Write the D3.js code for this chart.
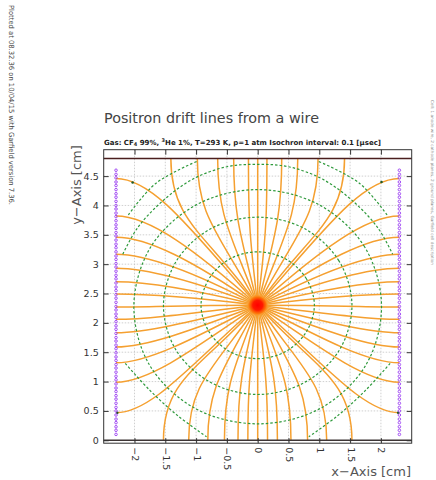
<!DOCTYPE html>
<html>
<head>
<meta charset="utf-8">
<script src="https://cdn.jsdelivr.net/npm/d3@7"></script>
<style>
  body { margin: 0; background: #fff; }
  svg { display: block; }
  text { font-family: "DejaVu Sans", sans-serif; }
</style>
</head>
<body>
<svg width="436" height="480"></svg>
<script>
const width = 436;
const height = 480;

// axis ticks
const xTicks = [-2, -1.5, -1, -0.5, 0, 0.5, 1, 1.5, 2];
const yTicks = [0, 0.5, 1, 1.5, 2, 2.5, 3, 3.5, 4, 4.5];

// cell layout (cm)
const anodeWire = [0, 2.3];
const cathodePlaneX = [-2.3, 2.3];
const groundPlaneY = [0, 4.8];
const cathodeWireY = [
    0.10, 0.17, 0.23, 0.30, 0.36, 0.43, 0.50, 0.56, 0.63, 0.70, 0.76, 0.83,
    0.89, 0.96, 1.03, 1.09, 1.16, 1.23, 1.29, 1.36, 1.42, 1.49, 1.56, 1.62,
    1.69, 1.75, 1.82, 1.89, 1.95, 2.02, 2.09, 2.15, 2.22, 2.28, 2.35, 2.42,
    2.48, 2.55, 2.61, 2.68, 2.75, 2.81, 2.88, 2.95, 3.01, 3.08, 3.14, 3.21,
    3.28, 3.34, 3.41, 3.48, 3.54, 3.61, 3.67, 3.74, 3.81, 3.87, 3.94, 4.00,
    4.07, 4.14, 4.20, 4.27, 4.34, 4.40, 4.47, 4.53, 4.60,
];

// drift lines: start angle at the wire (deg) and where each one ends (cm)
const driftAngle = [
    0, 6.92, 13.85, 20.77, 27.69, 34.62, 41.54, 48.46, 55.38, 62.31, 69.23, 76.15, 83.08,
    90, 96.92, 103.85, 110.77, 117.69, 124.62, 131.54, 138.46, 145.38, 152.31, 159.23, 166.15, 173.08,
    180, 186.92, 193.85, 200.77, 207.69, 214.62, 221.54, 228.46, 235.38, 242.31, 249.23, 256.15, 263.08,
    270, 276.92, 283.85, 290.77, 297.69, 304.62, 311.54, 318.46, 325.38, 332.31, 339.23, 346.15, 353.08,
];
const driftEndX = [
    2.3, 2.3, 2.3, 2.3, 2.3, 2.3, 2.3, 2.3, 1.41, 0.98, 0.65, 0.39, 0.15,
    0, -0.15, -0.39, -0.65, -0.98, -1.41, -2.3, -2.3, -2.3, -2.3, -2.3, -2.3, -2.3,
    -2.3, -2.3, -2.3, -2.3, -2.3, -2.3, -2.3, -1.53, -1.12, -0.81, -0.54, -0.32, -0.16,
    0, 0.16, 0.32, 0.54, 0.81, 1.12, 1.53, 2.3, 2.3, 2.3, 2.3, 2.3, 2.3,
];
const driftEndY = [
    2.27, 2.49, 2.70, 2.93, 3.17, 3.46, 3.82, 4.46, 4.8, 4.8, 4.8, 4.8, 4.8,
    4.8, 4.8, 4.8, 4.8, 4.8, 4.8, 4.46, 3.82, 3.46, 3.17, 2.93, 2.70, 2.49,
    2.27, 2.06, 1.83, 1.59, 1.32, 0.99, 0.47, 0, 0, 0, 0, 0, 0,
    0, 0, 0, 0, 0, 0, 0, 0.47, 0.99, 1.32, 1.59, 1.83, 2.06,
];

// isochrons, 0.1 usec apart: closed rings as radius per direction (cm)
const isoRingAngles = [0, 30, 60, 90, 120, 150, 180, 210, 240, 270, 300, 330];
const isoRing1 = [0.92, 0.91, 0.91, 0.91, 0.91, 0.91, 0.92, 0.91, 0.91, 0.91, 0.91, 0.91];
const isoRing2 = [1.53, 1.52, 1.51, 1.50, 1.51, 1.52, 1.53, 1.53, 1.52, 1.52, 1.52, 1.53];
const isoRing3 = [2.01, 2.00, 1.98, 1.97, 1.98, 2.00, 2.01, 2.03, 2.03, 2.02, 2.03, 2.03];
// open pieces where the planes cut the later isochrons (cm)
const isoTop4 = [[-2.19, 3.17], [-1.95, 3.62], [-1.55, 4.07], [-1.05, 4.45], [-0.5, 4.66], [0, 4.70],
    [0.5, 4.66], [1.05, 4.45], [1.55, 4.07], [1.95, 3.62], [2.19, 3.17]];
const isoLowLeft4 = [[-2.15, 1.31], [-1.75, 0.85], [-1.3, 0.42], [-0.83, 0.06]];
const isoLowRight4 = [[2.15, 1.31], [1.75, 0.85], [1.3, 0.42], [0.83, 0.06]];
const isoTopLeft5 = [[-2.10, 3.84], [-1.65, 4.38], [-0.99, 4.75]];
const isoTopRight5 = [[2.10, 3.84], [1.65, 4.38], [0.99, 4.75]];
// single isochron points left on the longest lines
const isoDots = [[-2.03, 4.39], [2.01, 4.40], [-2.28, 0.47], [2.28, 0.47]];

const svg = d3.select("svg");

const x = d3.scaleLinear().domain([-2.5, 2.5]).range([103.7, 411.7]);
const y = d3.scaleLinear().domain([-0.05, 4.95]).range([443.2, 149.7]);

const plot = svg.append("g").attr("id", "plot");

// clip to frame
svg.append("defs").append("clipPath").attr("id", "frameClip")
    .append("rect")
    .attr("x", x(-2.5)).attr("y", y(4.95))
    .attr("width", x(2.5) - x(-2.5)).attr("height", y(-0.05) - y(4.95));

// grid
const grid = plot.append("g").attr("stroke", "#c4c4c4").attr("stroke-width", 0.8)
    .attr("stroke-dasharray", "1.5,1.5");
grid.selectAll(".vgrid").data(xTicks).enter().append("line")
    .attr("x1", (d) => x(d)).attr("x2", (d) => x(d))
    .attr("y1", y(4.95)).attr("y2", y(-0.05));
grid.selectAll(".hgrid").data(yTicks.filter((d) => d > 0)).enter().append("line")
    .attr("x1", x(-2.5)).attr("x2", x(2.5))
    .attr("y1", (d) => y(d)).attr("y2", (d) => y(d));

// drift lines
const driftPath = (i) => {
    const x0 = x(anodeWire[0]), y0 = y(anodeWire[1]);
    const x3 = x(driftEndX[i]), y3 = y(driftEndY[i]);
    const a = (driftAngle[i] * Math.PI) / 180;
    const dist = Math.hypot(x3 - x0, y3 - y0);
    // solid planes: arrive perpendicular; wire planes: softer approach
    let nx = 0, ny = 0, k = 0.38;
    if (Math.abs(driftEndX[i]) > 2.2) {
        nx = Math.sign(driftEndX[i]);
        k = 0.2;
    } else {
        ny = driftEndY[i] > 2 ? -1 : 1;
    }
    const p = d3.path();
    p.moveTo(x0, y0);
    p.bezierCurveTo(
        x0 + 0.5 * dist * Math.cos(a), y0 - 0.5 * dist * Math.sin(a),
        x3 - k * dist * nx, y3 - k * dist * ny,
        x3, y3
    );
    return p.toString();
};

plot.append("g").attr("clip-path", "url(#frameClip)")
    .selectAll("path").data(driftAngle).enter().append("path")
    .attr("d", (d, i) => driftPath(i))
    .attr("fill", "none")
    .attr("stroke", "#f5a030")
    .attr("stroke-width", 1.5);

// isochrons
const isoG = plot.append("g").attr("fill", "none").attr("stroke", "#2f9a3c")
    .attr("stroke-width", 1.2).attr("stroke-dasharray", "2.5,2");

const ringLine = d3.line()
    .x((d) => x(anodeWire[0] + d.r * Math.cos((d.a * Math.PI) / 180)))
    .y((d) => y(anodeWire[1] + d.r * Math.sin((d.a * Math.PI) / 180)))
    .curve(d3.curveCatmullRomClosed.alpha(0.5));

[isoRing1, isoRing2, isoRing3].forEach((ring) => {
    isoG.append("path")
        .attr("d", ringLine(ring.map((r, i) => ({ r: r, a: isoRingAngles[i] }))));
});

const pieceLine = d3.line().x((d) => x(d[0])).y((d) => y(d[1])).curve(d3.curveCatmullRom);
[isoTop4, isoLowLeft4, isoLowRight4, isoTopLeft5, isoTopRight5].forEach((piece) => {
    isoG.append("path").attr("d", pieceLine(piece));
});

plot.append("g").selectAll("circle").data(isoDots).enter().append("circle")
    .attr("cx", (d) => x(d[0])).attr("cy", (d) => y(d[1]))
    .attr("r", 1.3).attr("fill", "#1f5a26");

// anode wire glow
const grad = svg.select("defs").append("radialGradient").attr("id", "wireGlow");
grad.append("stop").attr("offset", "0%").attr("stop-color", "#ff0000");
grad.append("stop").attr("offset", "45%").attr("stop-color", "#ff1a00");
grad.append("stop").attr("offset", "75%").attr("stop-color", "#ff6a00").attr("stop-opacity", 0.8);
grad.append("stop").attr("offset", "100%").attr("stop-color", "#ffa030").attr("stop-opacity", 0);
plot.append("circle")
    .attr("cx", x(anodeWire[0])).attr("cy", y(anodeWire[1]))
    .attr("r", 11).attr("fill", "url(#wireGlow)");

// cathode wires
cathodePlaneX.forEach((cx) => {
    plot.append("g").selectAll("circle").data(cathodeWireY).enter().append("circle")
        .attr("cx", x(cx)).attr("cy", (d) => y(d))
        .attr("r", 1.3)
        .attr("fill", "none")
        .attr("stroke", "#9b3ff2")
        .attr("stroke-width", 0.9);
});

// ground planes
plot.selectAll(".plane").data(groundPlaneY).enter().append("line")
    .attr("x1", x(-2.5)).attr("x2", x(2.5))
    .attr("y1", (d) => y(d)).attr("y2", (d) => y(d))
    .attr("stroke", (d) => (d > 1 ? "#4a1e1e" : "#3d3535"))
    .attr("stroke-width", 1.4);

// frame
plot.append("rect")
    .attr("x", x(-2.5)).attr("y", y(4.95))
    .attr("width", x(2.5) - x(-2.5)).attr("height", y(-0.05) - y(4.95))
    .attr("fill", "none").attr("stroke", "#333").attr("stroke-width", 1);

// axes, ticks inward on all sides
const axisStyle = (g) => {
    g.select(".domain").remove();
    g.selectAll(".tick line").attr("stroke", "#333");
    g.selectAll(".tick text").attr("fill", "#333").style("font-size", "9.5px");
};

svg.append("g")
    .attr("transform", `translate(0, ${y(-0.05)})`)
    .call(d3.axisBottom(x).tickValues(xTicks).tickSize(-5).tickPadding(4)
        .tickFormat((d) => d3.format("")(d).replace("-", "\u2212")))
    .call(axisStyle)
    .call((g) => g.selectAll(".tick text")
        .attr("transform", "rotate(90)")
        .attr("text-anchor", "start")
        .attr("x", 4).attr("y", 0).attr("dy", "0.32em"));

svg.append("g")
    .attr("transform", `translate(0, ${y(4.95)})`)
    .call(d3.axisTop(x).tickValues(xTicks).tickSize(-5).tickFormat(""))
    .call(axisStyle);

svg.append("g")
    .attr("transform", `translate(${x(-2.5)}, 0)`)
    .call(d3.axisLeft(y).tickValues(yTicks).tickSize(-5).tickPadding(5)
        .tickFormat(d3.format("")))
    .call(axisStyle);

svg.append("g")
    .attr("transform", `translate(${x(2.5)}, 0)`)
    .call(d3.axisRight(y).tickValues(yTicks).tickSize(-5).tickFormat(""))
    .call(axisStyle);

// titles
svg.append("text")
    .attr("x", 104).attr("y", 122.5)
    .attr("textLength", 215).attr("lengthAdjust", "spacingAndGlyphs")
    .attr("fill", "#444").style("font-size", "14px")
    .text("Positron drift lines from a wire");

const sub = svg.append("text")
    .attr("x", 104).attr("y", 144.5)
    .attr("fill", "#222").style("font-size", "7px").style("font-weight", "bold");
sub.append("tspan").text("Gas: CF");
sub.append("tspan").attr("dy", 1.5).style("font-size", "5px").text("4");
sub.append("tspan").attr("dy", -1.5).text(" 99%, ");
sub.append("tspan").attr("dy", -2.5).style("font-size", "5px").text("3");
sub.append("tspan").attr("dy", 2.5).text("He 1%, T=293 K, p=1 atm Isochron interval: 0.1 [\u00b5sec]");

svg.append("text")
    .attr("transform", `translate(81, 185) rotate(-90)`)
    .attr("text-anchor", "middle")
    .attr("fill", "#555").style("font-size", "13px")
    .text("y\u2212Axis [cm]");

svg.append("text")
    .attr("x", 411).attr("y", 476)
    .attr("text-anchor", "end")
    .attr("fill", "#555").style("font-size", "13px")
    .text("x\u2212Axis [cm]");

svg.append("text")
    .attr("transform", "translate(9, 5) rotate(90)")
    .attr("textLength", 200).attr("lengthAdjust", "spacingAndGlyphs")
    .attr("fill", "#444").style("font-size", "7px")
    .text("Plotted at 08.32.36 on 10/04/15 with Garfield version 7.36.");

svg.append("text")
    .attr("transform", "translate(431, 100) rotate(90)")
    .attr("textLength", 165).attr("lengthAdjust", "spacingAndGlyphs")
    .attr("fill", "#888").style("font-size", "4px")
    .text("Cell: 1 anode wire, 2 cathode planes, 2 ground planes, Garfield cell description");
</script>
</body>
</html>
